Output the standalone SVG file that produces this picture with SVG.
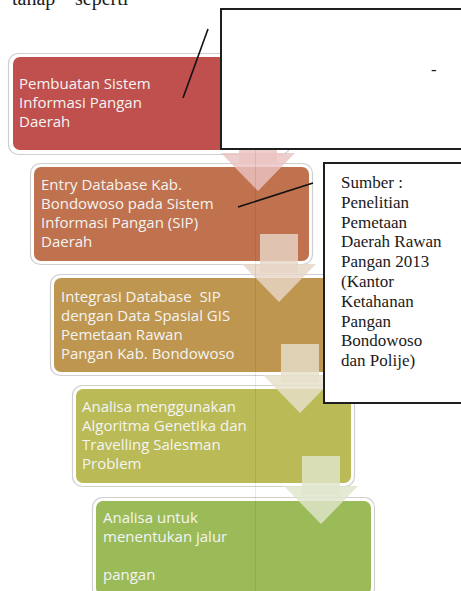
<svg xmlns="http://www.w3.org/2000/svg" width="461" height="591" viewBox="0 0 461 591">
<style>
.outer{fill:#FFFFFF;stroke:#CFCFCF;stroke-width:1.2}
.lbl{font-family:"Open Sans","Noto Sans","Liberation Sans",sans-serif;font-size:15px;fill:#F4F4F4}
.serif{font-family:"Liberation Serif","DejaVu Serif",serif;fill:#1A1A1A}
.tbox{fill:#FFFFFF;stroke:#1E1E1E;stroke-width:2}
.lead{stroke:#111;stroke-width:1.6;fill:none}
.arr{fill-opacity:0.82}
</style>
<rect width="461" height="591" fill="#FFFFFF"/>
<text class="serif" font-size="20" y="5"><tspan x="12">tahap</tspan><tspan x="75">seperti</tspan></text>

<g id="node1">
<rect class="outer" x="8.5" y="53.5" width="282" height="101" rx="10"/>
<rect x="13" y="57" width="273" height="93" rx="7" fill="#C0504D"/>
<text class="lbl"><tspan x="19" y="89">Pembuatan Sistem</tspan><tspan x="19" y="108">Informasi Pangan</tspan><tspan x="19" y="127">Daerah</tspan></text>
</g>
<g id="node2">
<rect class="outer" x="30.5" y="163.5" width="282" height="101" rx="10"/>
<rect x="34" y="167" width="275" height="94" rx="7" fill="#C0714D"/>
<text class="lbl"><tspan x="41" y="190">Entry Database Kab.</tspan><tspan x="41" y="209">Bondowoso pada Sistem</tspan><tspan x="41" y="228">Informasi Pangan (SIP)</tspan><tspan x="41" y="247">Daerah</tspan></text>
</g>
<g id="node3">
<rect class="outer" x="50.5" y="274.5" width="282" height="101" rx="10"/>
<rect x="54" y="278" width="275" height="94" rx="7" fill="#BF964F"/>
<text class="lbl" xml:space="preserve"><tspan x="61" y="302">Integrasi Database  SIP</tspan><tspan x="61" y="321">dengan Data Spasial GIS</tspan><tspan x="61" y="340">Pemetaan Rawan</tspan><tspan x="61" y="359">Pangan Kab. Bondowoso</tspan></text>
</g>
<g id="node4">
<rect class="outer" x="72.5" y="385.5" width="282" height="101" rx="10"/>
<rect x="76" y="389" width="275" height="94" rx="7" fill="#BABB56"/>
<text class="lbl"><tspan x="82" y="412">Analisa menggunakan</tspan><tspan x="82" y="431">Algoritma Genetika dan</tspan><tspan x="82" y="450">Travelling Salesman</tspan><tspan x="82" y="469">Problem</tspan></text>
</g>
<g id="node5">
<rect class="outer" x="92.5" y="497.5" width="282" height="101" rx="10"/>
<rect x="96" y="501" width="275" height="94" rx="7" fill="#9BBB59"/>
<text class="lbl"><tspan x="103" y="523">Analisa untuk</tspan><tspan x="103" y="542">menentukan jalur</tspan><tspan x="103" y="580">pangan</tspan></text>
</g>

<g id="connectors">
<g id="arrow1" fill="#E9C3C2">
<rect class="arr" x="239" y="124" width="38" height="39"/>
<polygon class="arr" points="221,153 295,153 258,191"/>
</g>
<g id="arrow2" fill="#E6D6C6">
<rect class="arr" x="260" y="234" width="38" height="39"/>
<polygon class="arr" points="242,264 316,264 279,302"/>
</g>
<g id="arrow3" fill="#E6DFCB">
<rect class="arr" x="281" y="344" width="38" height="39"/>
<polygon class="arr" points="263,375 337,375 300,413"/>
</g>
<g id="arrow4" fill="#DFE5CC">
<rect class="arr" x="302" y="456" width="38" height="39"/>
<polygon class="arr" points="284,486 358,486 321,524"/>
</g>
<line x1="255.5" y1="149" x2="255.5" y2="591" stroke="#000" stroke-opacity="0.08" stroke-width="1"/>
</g>

<g id="callout1">
<rect class="tbox" x="221" y="9" width="250" height="140"/>
<text class="serif" font-size="17" x="431" y="75">-</text>
<line class="lead" x1="183" y1="98" x2="208" y2="29"/>
</g>
<g id="callout2">
<rect class="tbox" x="324" y="163" width="150" height="240"/>
<text class="serif" font-size="17"><tspan x="341" y="188">Sumber :</tspan><tspan x="341" y="208">Penelitian</tspan><tspan x="341" y="228">Pemetaan</tspan><tspan x="341" y="247">Daerah Rawan</tspan><tspan x="341" y="267">Pangan 2013</tspan><tspan x="341" y="287">(Kantor</tspan><tspan x="341" y="307">Ketahanan</tspan><tspan x="341" y="327">Pangan</tspan><tspan x="341" y="346">Bondowoso</tspan><tspan x="341" y="366">dan Polije)</tspan></text>
<line class="lead" x1="238" y1="207" x2="313" y2="183"/>
</g>
</svg>
